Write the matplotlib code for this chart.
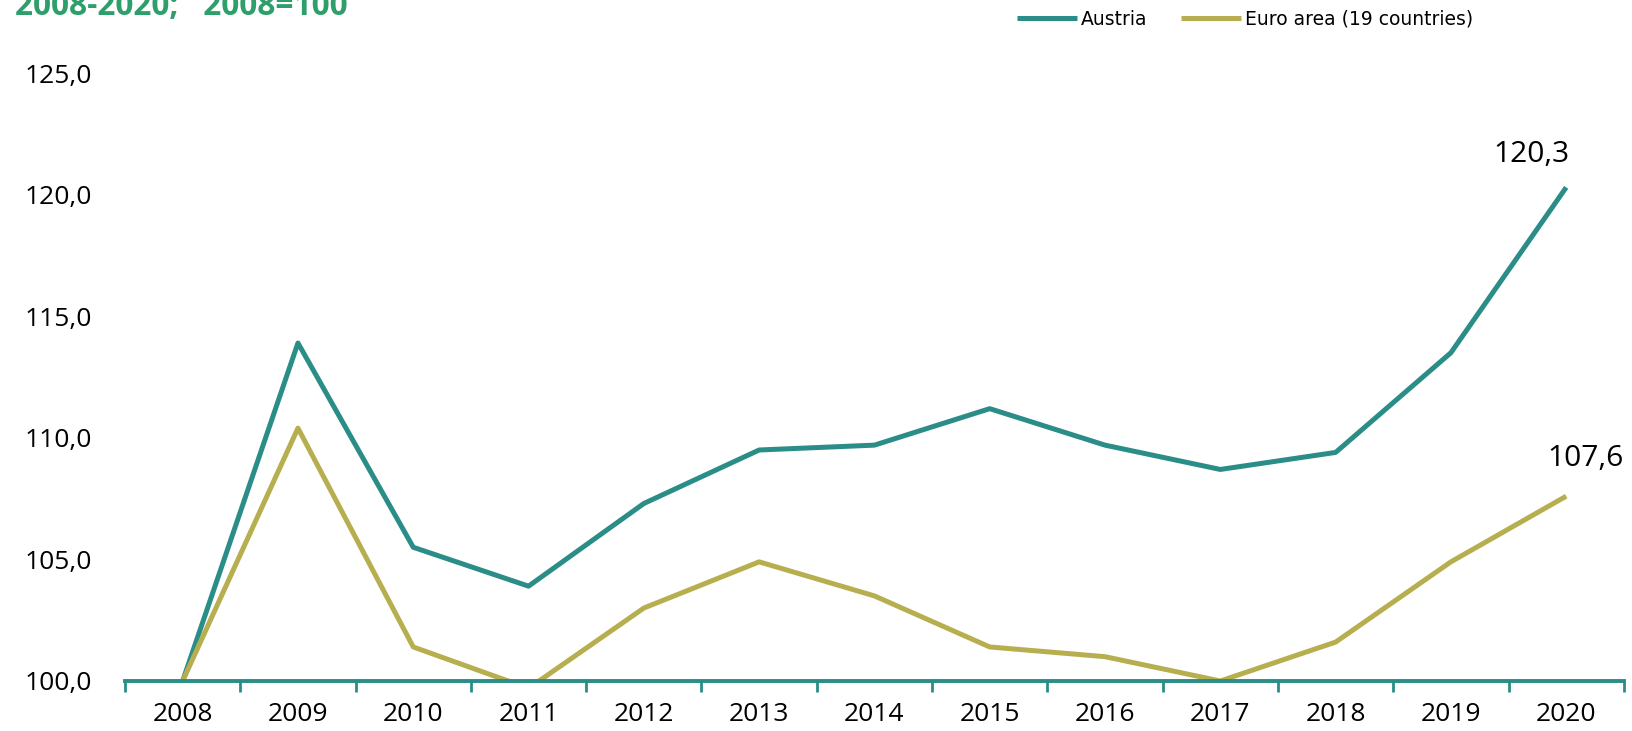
import matplotlib
matplotlib.use("Agg")
import matplotlib.pyplot as plt
import numpy as np

years = [2008, 2009, 2010, 2011, 2012, 2013, 2014, 2015, 2016, 2017, 2018, 2019, 2020]
austria = [100.0, 113.9, 105.5, 103.9, 107.3, 109.5, 109.7, 111.2, 109.7, 108.7, 109.4, 113.5, 120.3]
euro_area = [100.0, 110.4, 101.4, 99.7, 103.0, 104.9, 103.5, 101.4, 101.0, 100.0, 101.6, 104.9, 107.6]
yticks = [100, 105, 110, 115, 120, 125]
title = "2008-2020;   2008=100"

teal = "#2A8D87"
olive = "#B7AF4F"

plt.rcParams['font.family'] = ['Open Sans', 'DejaVu Sans']

fig = plt.figure(figsize=(16.32, 7.31), dpi=100)
ax = fig.add_axes([0.0766, 0.0684, 0.9184, 0.8316])

x = np.arange(len(years))
ax.plot(x, austria, color=teal, lw=3.6, label="Austria", solid_capstyle='butt')
ax.plot(x, euro_area, color=olive, lw=3.6, label="Euro area (19 countries)", solid_capstyle='butt')

ax.set_xlim(-0.5, len(years) - 0.5)
ax.set_ylim(100, 125)
ax.set_yticks(yticks)
ax.set_yticklabels([f"{v:.1f}".replace('.', ',') for v in yticks], fontsize=19)

ax.set_xticks(x)
ax.set_xticklabels([str(y) for y in years], fontsize=19)
ax.tick_params(axis='x', which='major', length=0, pad=15)
ax.set_xticks(np.arange(-0.5, len(years)), minor=True)
ax.tick_params(axis='x', which='minor', length=8, width=2, color=teal, direction='out')
ax.tick_params(axis='y', length=0, pad=24)

for s in ['top', 'right', 'left']:
    ax.spines[s].set_visible(False)
ax.spines['bottom'].set_color(teal)
ax.spines['bottom'].set_linewidth(2.8)
ax.spines['bottom'].set_zorder(5)

# end labels
ax.annotate(f"{austria[-1]:.1f}".replace('.', ','), (x[-1], austria[-1]),
            xytext=(-25, 24), textcoords='offset points', ha='center', va='center', fontsize=21.5)
ax.annotate(f"{euro_area[-1]:.1f}".replace('.', ','), (x[-1], euro_area[-1]),
            xytext=(14, 27), textcoords='offset points', ha='center', va='center', fontsize=21.5)

leg = fig.legend(loc='upper left', bbox_to_anchor=(0.613, 1.01), ncol=2, frameon=False,
                 prop={'family': 'DejaVu Sans', 'size': 13.5},
                 handlelength=3.2, handletextpad=0.2, columnspacing=1.8)

fig.text(0.009, 1 - 15 / 731, title, fontsize=22.8, fontweight='bold', color="#2E9E6B",
         ha='left', va='baseline')

fig.savefig("out.png", dpi=100)
